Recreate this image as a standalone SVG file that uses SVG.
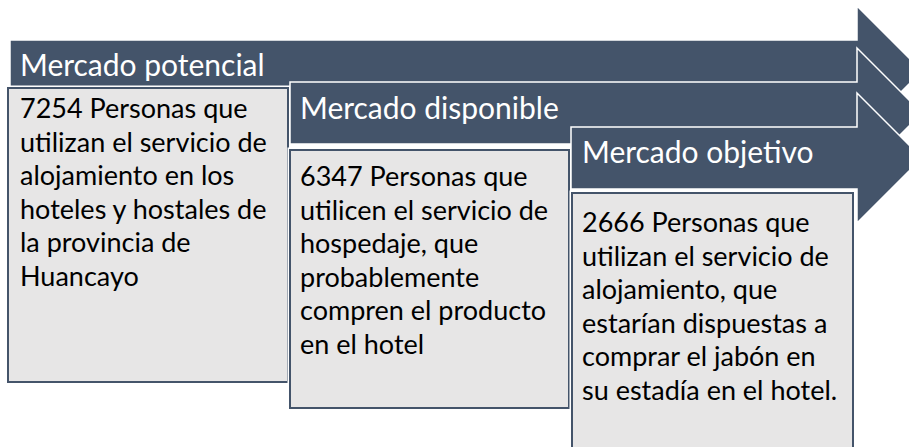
<svg xmlns="http://www.w3.org/2000/svg" width="909" height="447" viewBox="0 0 909 447">
<style>
.arrow{fill:#44546A;stroke:#FFFFFF;stroke-width:1.5;stroke-linejoin:miter}
.boxo{fill:none;stroke:#FFFFFF;stroke-width:5}
.box{fill:#E7E6E6;stroke:#44546A;stroke-width:2}
.hd{font-family:Lato,"Liberation Sans",Arial,sans-serif;font-size:30px;fill:#FFFFFF}
.bd{font-family:Lato,"Liberation Sans",Arial,sans-serif;font-size:27px;fill:#000000}
</style>
<rect width="909" height="447" fill="#FFFFFF"/>
<g id="step1">
<path class="arrow" d="M10,40 H857 V6 L922,71 L857,136 V102 H10 Z"/>
<text class="hd" x="20" y="76">Mercado potencial</text>
<rect class="boxo" x="8" y="88" width="280" height="294"/>
<rect class="box" x="8" y="88" width="280" height="294"/>
<text class="bd"><tspan x="20" y="118">7254 Personas que</tspan><tspan x="20" y="151.5">utilizan el servicio de</tspan><tspan x="20" y="185">alojamiento en los</tspan><tspan x="20" y="218.5">hoteles y hostales de</tspan><tspan x="20" y="252">la provincia de</tspan><tspan x="20" y="285.5">Huancayo</tspan></text>
</g>
<g id="step2">
<path class="arrow" d="M290,82 H857 V48 L922,113 L857,178 V144 H290 Z"/>
<text class="hd" x="300" y="119">Mercado disponible</text>
<rect class="boxo" x="290" y="150" width="279" height="258"/>
<rect class="box" x="290" y="150" width="279" height="258"/>
<text class="bd"><tspan x="300" y="186">6347 Personas que</tspan><tspan x="300" y="219.5">utilicen el servicio de</tspan><tspan x="300" y="253">hospedaje, que</tspan><tspan x="300" y="286.5">probablemente</tspan><tspan x="300" y="320">compren el producto</tspan><tspan x="300" y="353.5">en el hotel</tspan></text>
</g>
<g id="step3">
<path class="arrow" d="M571,127 H857 V93 L922,158 L857,223 V189 H571 Z"/>
<text class="hd" x="582" y="163">Mercado objetivo</text>
<rect class="boxo" x="572" y="193" width="281" height="270"/>
<rect class="box" x="572" y="193" width="281" height="270"/>
<text class="bd"><tspan x="582" y="232">2666 Personas que</tspan><tspan x="582" y="265.5">utilizan el servicio de</tspan><tspan x="582" y="299">alojamiento, que</tspan><tspan x="582" y="332.5">estarían dispuestas a</tspan><tspan x="582" y="366">comprar el jabón en</tspan><tspan x="582" y="399.5">su estadía en el hotel.</tspan></text>
</g>
<g id="connectors"></g>
</svg>
